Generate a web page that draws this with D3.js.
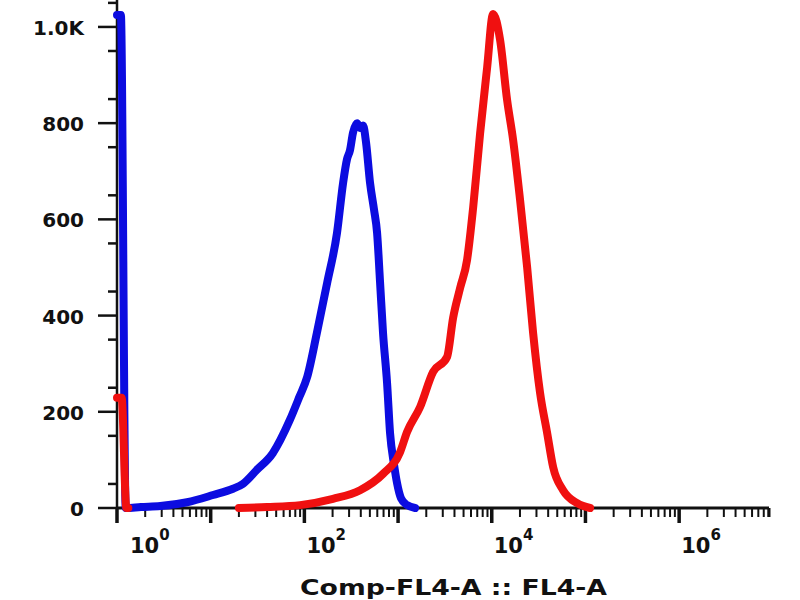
<!DOCTYPE html>
<html>
<head>
<meta charset="utf-8">
<script src="https://cdn.jsdelivr.net/npm/d3@7/dist/d3.min.js"></script>
<style>
  html, body { margin: 0; padding: 0; background: #fff; }
  svg { display: block; }
  text { font-family: "DejaVu Sans", Verdana, sans-serif; font-weight: bold; fill: #111; }
</style>
</head>
<body>
<svg id="chart" width="800" height="600"></svg>
<script>
// ---- data (fluorescence value, event count) ----
const blueSeries = [
  [1,1025],[1.1,1025],[1.24,0],[1.8,2],[2.9,4],[5.6,12],[10.6,27],[17.3,40],[22,50],
  [31,79],[46,114],[70,183],[88,230],[107,272],[136,364],[175,468],[223,572],[259,676],
  [285,725],[307,744],[330,780],[365,800],[395,790],[423,795],[455,760],[502,676],
  [554,620],[597,572],[642,470],[691,364],[763,260],[821,156],[906,90],[975,52],
  [1076,20],[1247,6],[1518,0]
];
const redSeries = [
  [1,229],[1.12,229],[1.26,0],[1.32,0],[1.35,null],[20,0],[40,2],[90,6],[202,19],
  [393,37],[691,71],[1050,116],[1247,158],[1718,210],[2366,283],[3334,314],[3865,395],
  [4590,457],[5454,516],[6324,624],[7504,778],[8918,915],[10330,1027],[12270,973],
  [14580,848],[16900,765],[20060,640],[23840,501],[27620,364],[32800,239],[39000,156],
  [45200,85],[57700,37],[81500,10],[112000,0]
];
const xDomain = [1, 9.1e6];
const yDomain = [0, 1056];
const xMajorTicks = [1, 10, 100, 1e3, 1e4, 1e5, 1e6];
const xLabelValues = [1, 100, 1e4, 1e6];
const xLabelExps = ["0", "2", "4", "6"];
const yTickValues = [0,50,150,200,250,350,400,450,550,600,650,750,800,850,950,1000,1050];
const yLabelValues = [0, 200, 400, 600, 800, 1000];
const yLabelTexts = ["0", "200", "400", "600", "800", "1.0K"];
const xTitle = "Comp-FL4-A :: FL4-A";

// ---- layout ----
const svg = d3.select("#chart");
const x = d3.scaleLog().domain(xDomain).range([117, 769]);
const y = d3.scaleLinear().domain(yDomain).range([508, 0]);

// minor x ticks 2..9 per decade
const xMinorTicks = [];
for (let p = 0; p <= 6; p++) {
  for (let m = 2; m <= 9; m++) {
    const v = m * Math.pow(10, p);
    if (v <= xDomain[1] * 1.001) xMinorTicks.push(v);
  }
}

// x axis
const xAxisG = svg.append("g");
xAxisG.append("line")
  .attr("x1", x(xDomain[0])).attr("x2", x(xDomain[1]))
  .attr("y1", y(0)).attr("y2", y(0))
  .attr("stroke", "#111").attr("stroke-width", 3);
xAxisG.selectAll("line.minor").data(xMinorTicks).join("line")
  .attr("class", "minor")
  .attr("x1", d => x(d)).attr("x2", d => x(d))
  .attr("y1", y(0)).attr("y2", y(0) + 9)
  .attr("stroke", "#111").attr("stroke-width", 2);
xAxisG.selectAll("line.major").data(xMajorTicks).join("line")
  .attr("class", "major")
  .attr("x1", d => x(d)).attr("x2", d => x(d))
  .attr("y1", y(0)).attr("y2", y(0) + 15)
  .attr("stroke", "#111").attr("stroke-width", 3.5);
xAxisG.append("line")
  .attr("x1", x(xDomain[1])).attr("x2", x(xDomain[1]))
  .attr("y1", y(0)).attr("y2", y(0) + 9)
  .attr("stroke", "#111").attr("stroke-width", 3);

const xl = xAxisG.selectAll("text.xl").data(xLabelValues).join("text")
  .attr("class", "xl")
  .attr("x", d => Math.max(x(d) + 2, 130))
  .attr("y", 553)
  .attr("font-size", 21);
xl.append("tspan").text("10");
xl.append("tspan")
  .attr("font-size", 15)
  .attr("dy", -13)
  .text((d, i) => xLabelExps[i]);

svg.append("text")
  .attr("x", 300).attr("y", 595)
  .attr("font-size", 21)
  .attr("textLength", 307)
  .attr("lengthAdjust", "spacingAndGlyphs")
  .text(xTitle);

// y axis
const yAxisG = svg.append("g");
yAxisG.append("line")
  .attr("x1", 117).attr("x2", 117)
  .attr("y1", y(yDomain[1])).attr("y2", y(0))
  .attr("stroke", "#111").attr("stroke-width", 2.5);
yAxisG.selectAll("line.yt").data(yTickValues).join("line")
  .attr("class", "yt")
  .attr("x1", d => yLabelValues.includes(d) ? 98 : 108)
  .attr("x2", 117)
  .attr("y1", d => y(d)).attr("y2", d => y(d))
  .attr("stroke", "#111").attr("stroke-width", 2.5);
yAxisG.selectAll("text.yl").data(yLabelValues).join("text")
  .attr("class", "yl")
  .attr("x", 84)
  .attr("y", d => y(d) + 8)
  .attr("text-anchor", "end")
  .attr("font-size", 20)
  .text((d, i) => yLabelTexts[i]);

// curves (drawn over the axes)
const line = d3.line()
  .defined(d => d[1] !== null)
  .x(d => x(d[0]))
  .y(d => y(d[1]))
  .curve(d3.curveMonotoneX);

svg.append("path").datum(blueSeries)
  .attr("d", line)
  .attr("fill", "none")
  .attr("stroke", "#0c0ce0")
  .attr("stroke-width", 8)
  .attr("stroke-linejoin", "round")
  .attr("stroke-linecap", "round");

svg.append("path").datum(redSeries)
  .attr("d", line)
  .attr("fill", "none")
  .attr("stroke", "#f01010")
  .attr("stroke-width", 8)
  .attr("stroke-linejoin", "round")
  .attr("stroke-linecap", "round");
</script>
</body>
</html>
